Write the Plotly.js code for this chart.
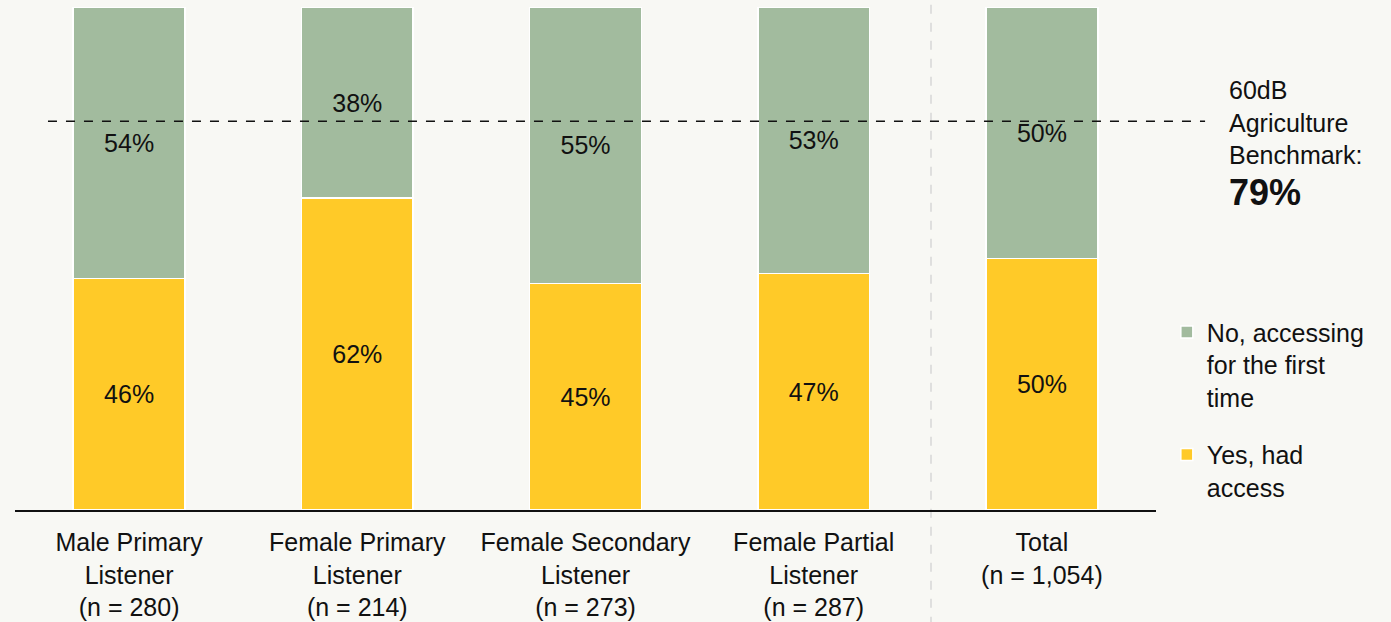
<!DOCTYPE html>
<html>
<head>
<meta charset="utf-8">
<script src="https://cdn.plot.ly/plotly-3.0.1.min.js"></script>
<style>
html,body{margin:0;padding:0;background:#f8f8f4;}
#chart{width:1391px;height:622px;}
</style>
</head>
<body>
<div id="chart"></div>
<script>
// ---- data ----
const categories = [
  "Male Primary<br>Listener<br>(n = 280)",
  "Female Primary<br>Listener<br>(n = 214)",
  "Female Secondary<br>Listener<br>(n = 273)",
  "Female Partial<br>Listener<br>(n = 287)",
  "Total<br>(n = 1,054)"
];
const yesValues = [46, 62, 45, 47, 50];
const noValues  = [54, 38, 55, 53, 50];
const seriesNames = ["Yes, had<br>access", "No, accessing<br>for the first<br>time"];
const benchmarkLabel = "60dB<br>Agriculture<br>Benchmark:";
const benchmarkValueText = "79%";
const benchmarkLinePos = 77.3; // position of dashed line

const FONT = '"Liberation Sans", Arial, sans-serif';
const GREEN = '#a2bb9e';
const YELLOW = '#ffca28';

const pct = v => v.map(x => x + '%');

const traces = [
  {
    type: 'bar', name: seriesNames[0], x: categories, y: yesValues,
    text: pct(yesValues), textposition: 'inside', insidetextanchor: 'middle',
    textfont: {family: FONT, size: 25, color: '#111'},
    marker: {color: YELLOW, line: {color: '#ffffff', width: 1.5}},
    hoverinfo: 'skip', legendgroup: 'yes', legendrank: 2
  },
  {
    type: 'bar', name: seriesNames[1], x: categories, y: noValues,
    text: pct(noValues), textposition: 'inside', insidetextanchor: 'middle',
    textfont: {family: FONT, size: 25, color: '#111'},
    marker: {color: GREEN, line: {color: '#ffffff', width: 1.5}},
    hoverinfo: 'skip', legendgroup: 'no', legendrank: 1
  }
];

const layout = {
  width: 1391, height: 622,
  paper_bgcolor: '#f8f8f4', plot_bgcolor: '#f8f8f4',
  margin: {l: 15, r: 235, t: 7, b: 112},
  barmode: 'stack', bargap: 0.51,
  font: {family: FONT, size: 25, color: '#111'},
  xaxis: {
    showline: true, linecolor: '#111', linewidth: 2,
    ticks: '', showgrid: false, zeroline: false,
    tickfont: {family: FONT, size: 25, color: '#111'},
    ticklabelstandoff: 9
  },
  yaxis: {range: [0, 100], visible: false, showgrid: false, zeroline: false, fixedrange: true},
  showlegend: true,
  legend: {
    x: 1.0095, xanchor: 'left', y: 0.399, yanchor: 'top',
    traceorder: 'grouped', tracegroupgap: 22, valign: 'top',
    font: {family: FONT, size: 25, color: '#111'},
    bgcolor: 'rgba(0,0,0,0)', itemclick: false
  },
  shapes: [
    {type: 'line', xref: 'paper', yref: 'paper', x0: 0.0289, x1: 1.043,
     y0: benchmarkLinePos / 100, y1: benchmarkLinePos / 100,
     line: {color: '#111', width: 1.5, dash: 'dash'}, layer: 'above'},
    {type: 'line', xref: 'paper', yref: 'paper', x0: 0.8028, x1: 0.8028,
     y0: -0.23, y1: 1.02,
     line: {color: '#cfcfcf', width: 1.2, dash: 'dash'}, layer: 'below'}
  ],
  annotations: [
    {xref: 'paper', yref: 'paper', x: 1.062, y: 0.7705, xanchor: 'left', yanchor: 'middle',
     text: benchmarkLabel, showarrow: false, align: 'left',
     font: {family: FONT, size: 25, color: '#111'}},
    {xref: 'paper', yref: 'paper', x: 1.062, y: 0.632, xanchor: 'left', yanchor: 'middle',
     text: '<b>' + benchmarkValueText + '</b>', showarrow: false, align: 'left',
     font: {family: FONT, size: 36, color: '#111'}}
  ]
};

Plotly.newPlot('chart', traces, layout, {displayModeBar: false, responsive: false});
</script>
</body>
</html>
